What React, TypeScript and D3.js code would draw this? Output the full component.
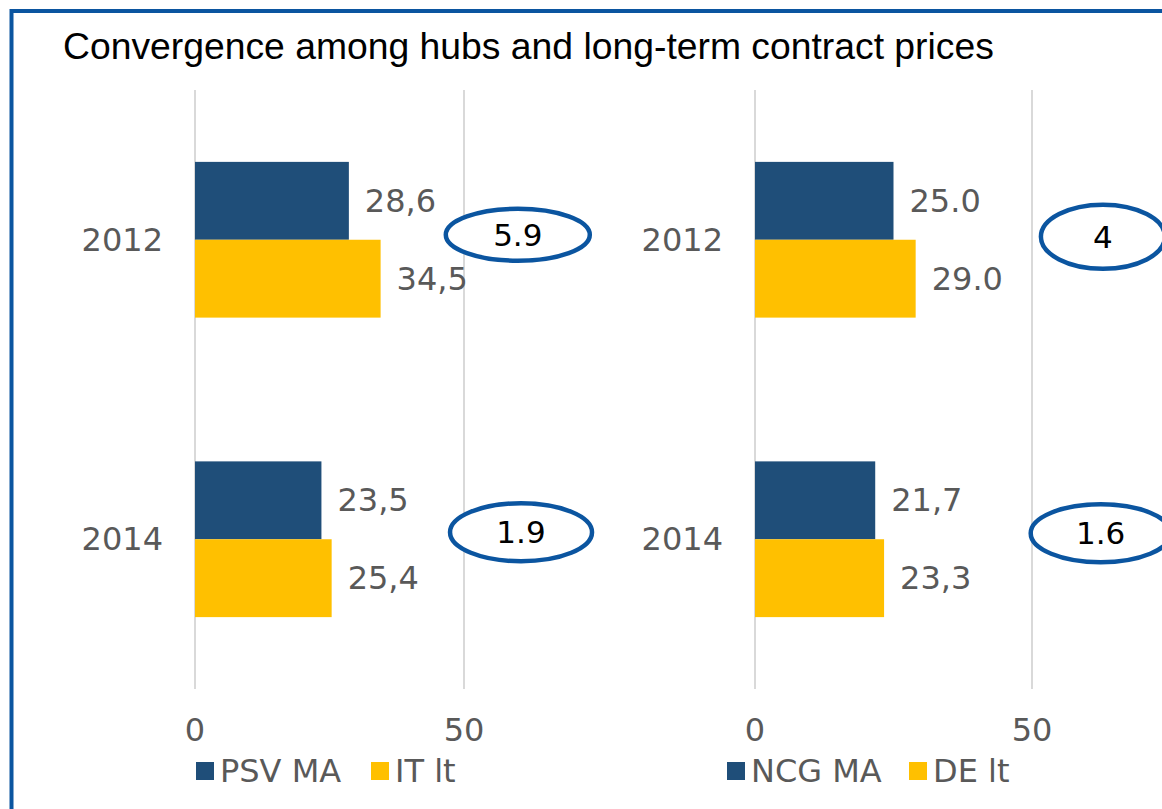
import React from "react";
import * as d3 from "d3";

const TITLE = "Convergence among hubs and long-term contract prices";
const years = ["2012", "2014"];
const tickValues = [0, 50];

// Left panel: Italy
const psvMA = [28.6, 23.5];
const itLT = [34.5, 25.4];
const psvLabels = ["28,6", "23,5"];
const itLabels = ["34,5", "25,4"];
const itSpread = ["5.9", "1.9"];

// Right panel: Germany
const ncgMA = [25.0, 21.7];
const deLT = [29.0, 23.3];
const ncgLabels = ["25.0", "21,7"];
const deLabels = ["29.0", "23,3"];
const deSpread = ["4", "1.6"];

const seriesNamesLeft = ["PSV MA", "IT lt"];
const seriesNamesRight = ["NCG MA", "DE lt"];

const BLUE = "#1f4e79";
const YELLOW = "#ffc000";
const TEXT = "#595959";
const FRAME = "#0b55a0";
const GRID = "#d9d9d9";
const FONT = "'DejaVu Sans', Verdana, sans-serif";

type Panel = {
  a: number[];
  b: number[];
  aLab: string[];
  bLab: string[];
  spread: string[];
  names: string[];
  x0: number;
  x50: number;
  ellX: number[];
  ellDy: number[];
  ellRx: number[];
  ellRy: number[];
  legX: number[];
};

const panels: Panel[] = [
  {
    a: psvMA, b: itLT, aLab: psvLabels, bLab: itLabels, spread: itSpread,
    names: seriesNamesLeft, x0: 195, x50: 464,
    ellX: [60, 60.6], ellDy: [-5, -7], ellRx: [72, 71], ellRy: [26, 29],
    legX: [196, 371],
  },
  {
    a: ncgMA, b: deLT, aLab: ncgLabels, bLab: deLabels, spread: deSpread,
    names: seriesNamesRight, x0: 755, x50: 1032,
    ellX: [62.8, 62.4], ellDy: [-3, -6], ellRx: [62, 70], ellRy: [32, 29],
    legX: [727, 909],
  },
];

const PLOT_TOP = 90;
const PLOT_BOTTOM = 689;

function PanelView({ p }: { p: Panel }) {
  const x = d3.scaleLinear().domain([0, 50]).range([p.x0, p.x50]);
  const y = d3.scaleBand<string>().domain(years).range([PLOT_TOP, PLOT_BOTTOM]).padding(0);
  const step = y.bandwidth();
  const barH = step * 0.26;
  const fs = 32;
  return (
    <g>
      {tickValues.map((t) => (
        <line key={t} x1={x(t)} x2={x(t)} y1={PLOT_TOP} y2={PLOT_BOTTOM} stroke={GRID} strokeWidth={2} />
      ))}
      {years.map((yr, i) => {
        const cy = (y(yr) as number) + step / 2;
        return (
          <g key={yr}>
            <text x={p.x0 - 32} y={cy} textAnchor="end" dominantBaseline="central" fontFamily={FONT} fontSize={fs} fill={TEXT}>{yr}</text>
            <rect x={x(0)} y={cy - barH} width={x(p.a[i]) - x(0)} height={barH} fill={BLUE} />
            <rect x={x(0)} y={cy} width={x(p.b[i]) - x(0)} height={barH} fill={YELLOW} />
            <text x={x(p.a[i]) + 16} y={cy - barH / 2} dominantBaseline="central" fontFamily={FONT} fontSize={fs} fill={TEXT}>{p.aLab[i]}</text>
            <text x={x(p.b[i]) + 16} y={cy + barH / 2} dominantBaseline="central" fontFamily={FONT} fontSize={fs} fill={TEXT}>{p.bLab[i]}</text>
            <ellipse cx={x(p.ellX[i])} cy={cy + p.ellDy[i]} rx={p.ellRx[i]} ry={p.ellRy[i]} fill="#fff" stroke={FRAME} strokeWidth={4.5} />
            <text x={x(p.ellX[i])} y={cy + p.ellDy[i]} textAnchor="middle" dominantBaseline="central" fontFamily={FONT} fontSize={31} fill="#000">{p.spread[i]}</text>
          </g>
        );
      })}
      {tickValues.map((t) => (
        <text key={t} x={x(t)} y={730} textAnchor="middle" dominantBaseline="central" fontFamily={FONT} fontSize={fs} fill={TEXT}>{t}</text>
      ))}
      {p.names.map((n, i) => (
        <g key={n}>
          <rect x={p.legX[i]} y={762} width={18} height={18} fill={i === 0 ? BLUE : YELLOW} />
          <text x={p.legX[i] + 24} y={771} dominantBaseline="central" fontFamily={FONT} fontSize={fs} fill={TEXT}>{n}</text>
        </g>
      ))}
    </g>
  );
}

export default function App() {
  return (
    <svg width={1162} height={809} style={{ position: "absolute", left: 0, top: 0, background: "#fff" }}>
      <rect x={0} y={0} width={1162} height={809} fill="#fff" />
      <path d="M11.5,1000 L11.5,11 L1200,11" fill="none" stroke={FRAME} strokeWidth={4} />
      <text x={63} y={59} fontFamily="'Liberation Sans', Arial, sans-serif" fontSize={37.3} fill="#000">{TITLE}</text>
      {panels.map((p, i) => <PanelView key={i} p={p} />)}
    </svg>
  );
}
